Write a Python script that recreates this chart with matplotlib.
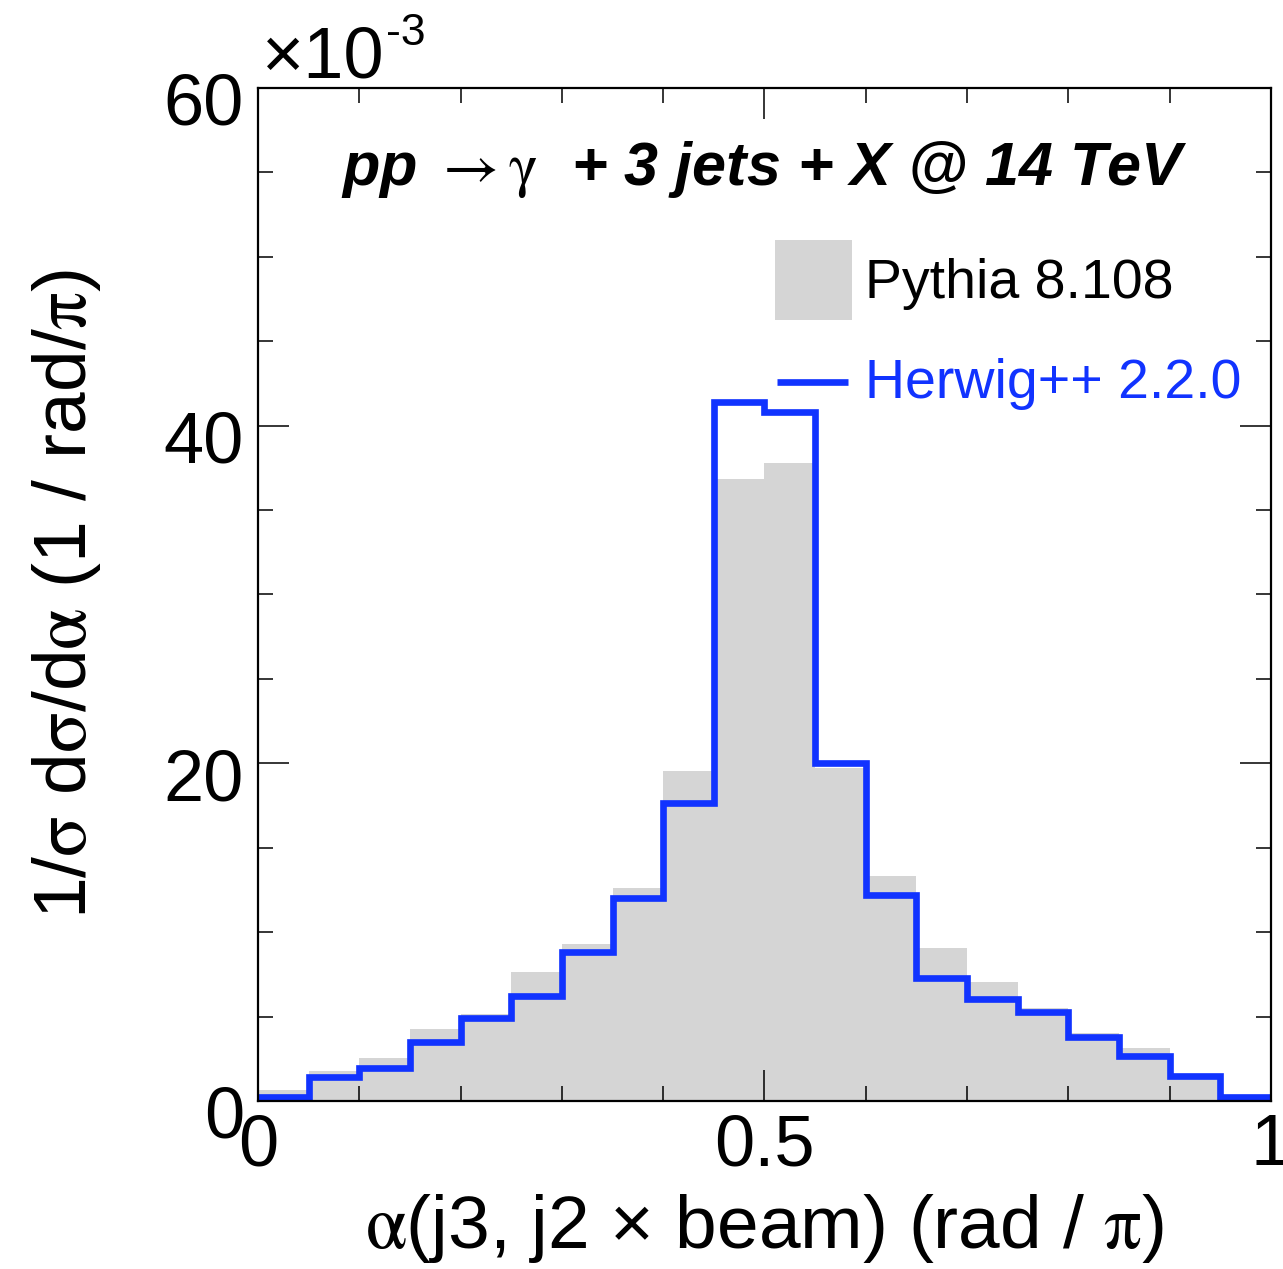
import matplotlib
matplotlib.use('Agg')
import matplotlib.pyplot as plt
from matplotlib.patches import Rectangle
from matplotlib.ticker import MultipleLocator
from matplotlib.transforms import ScaledTranslation

# bin edges of alpha (rad / pi)
bin_edges = [0.00, 0.05, 0.10, 0.15, 0.20, 0.25, 0.30, 0.35, 0.40, 0.45, 0.50,
             0.55, 0.60, 0.65, 0.70, 0.75, 0.80, 0.85, 0.90, 0.95, 1.00]

# 1/sigma dsigma/dalpha in units of 1e-3
pythia = [0.63, 1.78, 2.53, 4.25, 5.18, 7.65, 9.29, 12.6, 19.56, 36.85,
          37.8, 19.7, 13.3, 9.07, 7.05, 5.5, 4.0, 3.12, 1.6, 0.35]
herwig = [0.26, 1.44, 1.98, 3.48, 4.90, 6.22, 8.85, 12.0, 17.65, 41.4,
          40.8, 20.0, 12.2, 7.31, 6.03, 5.28, 3.81, 2.67, 1.48, 0.24]

labels = ['Pythia 8.108', 'Herwig++ 2.2.0']

gray = '#d5d5d5'
blue = '#1133ff'

plt.rcParams['font.family'] = ['Liberation Sans', 'DejaVu Sans']
plt.rcParams['mathtext.fontset'] = 'stix'

fig = plt.figure(figsize=(12.83, 12.69), dpi=100)
ax = fig.add_axes([0.2011, 0.1324, 0.7895, 0.7983])

# Histograms
ax.stairs(pythia, bin_edges, fill=True, color=gray, linewidth=0)
ax.stairs(herwig, bin_edges, color=blue, linewidth=4.8, baseline=None)

ax.set_xlim(0, 1)
ax.set_ylim(0, 60)

# ROOT-like ticks
ax.xaxis.set_major_locator(MultipleLocator(0.5))
ax.xaxis.set_minor_locator(MultipleLocator(0.1))
ax.yaxis.set_major_locator(MultipleLocator(20))
ax.yaxis.set_minor_locator(MultipleLocator(5))
ax.tick_params(which='both', direction='in', top=True, right=True, width=1.1)
ax.tick_params(which='major', length=22, labelsize=52)
ax.tick_params(which='minor', length=11)
ax.tick_params(axis='x', which='major', pad=9)
ax.tick_params(axis='y', which='major', pad=10)
ax.set_xticks([0, 0.5, 1])
ax.set_xticklabels(['0', '0.5', '1'])
for spine in ax.spines.values():
    spine.set_linewidth(1.6)

# shift y tick labels a bit down like in ROOT
offset = ScaledTranslation(0, -11 / 100, fig.dpi_scale_trans)
for lab in ax.get_yticklabels():
    lab.set_transform(lab.get_transform() + offset)

# axis labels
ax.set_xlabel(r'$\mathrm{\alpha}$(j3, j2 × beam) (rad / $\mathrm{\pi}$)',
              fontsize=54, labelpad=8)
ax.set_ylabel(r'1/$\mathrm{\sigma}$ d$\mathrm{\sigma}$/d$\mathrm{\alpha}$ (1 / rad/$\mathrm{\pi}$)',
              fontsize=54, labelpad=44)

# exponent label
ax.text(0.004, 1.0105, '×10', transform=ax.transAxes,
        fontsize=52, ha='left', va='baseline')
ax.text(0.126, 1.0425, '-3', transform=ax.transAxes,
        fontsize=32, ha='left', va='baseline')

# title inside the frame
ax.text(0.5, 0.919, r'pp $\rightarrow\mathrm{\gamma}$  + 3 jets + X @ 14 TeV',
        transform=ax.transAxes, fontsize=44, fontweight='bold', fontstyle='italic',
        ha='center', va='center')

# legend (drawn by hand, ROOT style)
ax.add_patch(Rectangle((0.5104, 0.771), 0.076, 0.079, transform=ax.transAxes,
                       facecolor=gray, edgecolor='none', clip_on=False))
ax.text(0.599, 0.7927, labels[0], transform=ax.transAxes, fontsize=40,
        ha='left', va='baseline', color='black')
ax.plot([0.5128, 0.5824], [0.710, 0.710], transform=ax.transAxes,
        color=blue, linewidth=4.8, solid_capstyle='butt', clip_on=False)
ax.text(0.599, 0.694, labels[1], transform=ax.transAxes, fontsize=40,
        ha='left', va='baseline', color=blue)

fig.savefig('out.png', dpi=100)
